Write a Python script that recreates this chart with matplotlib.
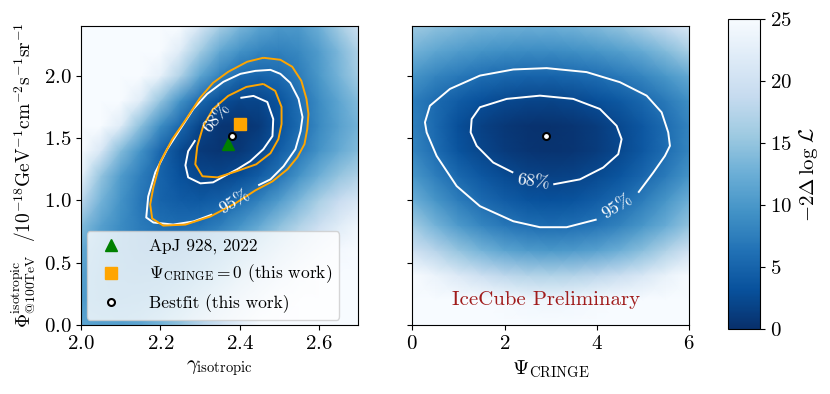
import numpy as np
import matplotlib
matplotlib.use("Agg")
import matplotlib.pyplot as plt

plt.rcParams['font.family'] = 'serif'
plt.rcParams['font.serif'] = ['cmr10']
plt.rcParams['mathtext.fontset'] = 'cm'
plt.rcParams['axes.formatter.use_mathtext'] = True
plt.rcParams['axes.unicode_minus'] = True

# ---- left panel scan: -2 dlogL on a (gamma, Phi) grid
gamma_nodes = [2.00, 2.05, 2.10, 2.15, 2.20, 2.25, 2.30, 2.35, 2.40, 2.45, 2.50, 2.55, 2.60, 2.65, 2.70]
phi_nodes = [0.0, 0.2, 0.4, 0.6, 0.8, 1.0, 1.2, 1.4, 1.6, 1.8, 2.0, 2.2, 2.4]
ts_left = [
    [11.5, 11.1, 11.1, 11.8, 13.2, 15.0, 17.5, 20.0, 22.5, 25.0, 25.0, 25.0, 25.0, 25.0, 25.0],
    [10.5, 9.8, 9.5, 9.8, 10.8, 12.5, 14.5, 17.0, 19.5, 22.0, 24.5, 25.0, 25.0, 25.0, 25.0],
    [11.0, 9.6, 8.8, 8.5, 8.8, 9.8, 11.5, 13.5, 16.0, 18.5, 21.0, 23.5, 25.0, 25.0, 25.0],
    [12.0, 10.0, 8.5, 7.5, 7.2, 7.6, 8.8, 10.5, 12.8, 15.0, 17.5, 20.0, 22.5, 24.5, 25.0],
    [14.0, 11.0, 8.8, 7.2, 6.2, 5.8, 6.2, 7.5, 9.5, 12.0, 14.5, 17.0, 19.5, 22.0, 24.0],
    [18.0, 13.0, 9.5, 6.8, 5.0, 4.2, 4.0, 4.6, 6.0, 8.0, 10.5, 13.5, 16.5, 19.0, 21.0],
    [23.0, 15.0, 10.5, 7.5, 5.0, 3.2, 2.2, 2.1, 2.8, 4.3, 6.5, 9.5, 12.5, 15.0, 17.0],
    [25.0, 21.0, 14.0, 9.5, 5.2, 2.5, 1.0, 0.5, 0.8, 2.0, 4.3, 6.8, 9.5, 12.0, 14.0],
    [25.0, 25.0, 22.0, 14.5, 9.0, 5.4, 2.0, 0.6, 0.3, 1.0, 3.2, 5.7, 8.5, 11.0, 13.0],
    [25.0, 25.0, 25.0, 22.0, 15.0, 9.5, 5.5, 3.0, 2.0, 2.1, 3.5, 6.0, 8.8, 11.5, 14.0],
    [25.0, 25.0, 25.0, 25.0, 23.0, 17.0, 11.5, 7.8, 5.6, 5.0, 5.6, 7.3, 10.0, 13.0, 16.0],
    [25.0, 25.0, 25.0, 25.0, 25.0, 22.0, 16.0, 12.0, 9.5, 8.2, 7.8, 8.5, 10.5, 13.5, 17.0],
    [25.0, 25.0, 25.0, 25.0, 25.0, 25.0, 21.0, 16.5, 13.5, 11.5, 10.2, 10.3, 12.5, 16.0, 20.0],
]

# ---- right panel scan: (Psi, Phi)
psi_nodes = [0.0, 0.5, 1.0, 1.5, 2.0, 2.5, 3.0, 3.5, 4.0, 4.5, 5.0, 5.5, 6.0]
ts_right = [
    [25.0, 25.0, 25.0, 25.0, 25.0, 25.0, 25.0, 25.0, 25.0, 25.0, 25.0, 25.0, 25.0],
    [25.0, 25.0, 25.0, 25.0, 24.8, 24.2, 24.0, 24.2, 24.8, 25.0, 25.0, 25.0, 25.0],
    [25.0, 23.5, 21.5, 19.5, 18.0, 17.2, 17.0, 17.2, 18.0, 19.3, 21.0, 23.2, 25.0],
    [20.0, 17.5, 15.0, 13.0, 11.4, 10.4, 10.0, 10.3, 11.1, 12.5, 14.4, 17.0, 20.0],
    [16.0, 13.0, 10.3, 8.3, 6.9, 6.0, 5.7, 6.0, 6.7, 8.0, 9.9, 12.3, 15.0],
    [12.6, 9.8, 7.4, 5.6, 4.3, 3.5, 3.2, 3.5, 4.3, 5.6, 7.4, 9.8, 12.6],
    [10.0, 7.5, 5.4, 3.8, 2.6, 1.9, 1.6, 1.85, 2.5, 3.6, 5.2, 7.2, 9.7],
    [8.3, 5.9, 3.5, 2.1, 1.1, 0.5, 0.3, 0.55, 1.25, 2.3, 3.9, 5.9, 8.2],
    [7.8, 5.5, 2.95, 1.65, 0.8, 0.3, 0.22, 0.55, 1.25, 2.4, 3.9, 5.8, 8.1],
    [7.5, 5.7, 4.2, 3.1, 2.4, 2.0, 1.95, 2.3, 3.0, 4.0, 5.4, 7.1, 9.2],
    [9.8, 8.2, 7.0, 6.0, 5.4, 5.05, 5.05, 5.4, 6.0, 7.0, 8.3, 10.0, 12.0],
    [13.0, 11.6, 10.5, 9.6, 9.1, 8.8, 8.85, 9.2, 9.8, 10.8, 12.2, 14.0, 16.5],
    [15.9, 14.7, 13.8, 13.1, 12.7, 12.5, 12.6, 13.0, 13.8, 15.0, 16.8, 19.0, 21.5],
]

# ---- contours
white95_left = [(2.447, 1.121), (2.478, 1.169), (2.511, 1.274), (2.541, 1.411), (2.554, 1.556), (2.559, 1.669),
                (2.549, 1.815), (2.528, 1.944), (2.503, 2.016), (2.478, 2.048), (2.440, 2.040), (2.402, 2.016),
                (2.359, 1.952), (2.318, 1.855), (2.283, 1.734), (2.250, 1.573), (2.217, 1.411), (2.187, 1.226),
                (2.169, 1.032), (2.164, 0.863), (2.182, 0.823), (2.232, 0.806), (2.283, 0.831), (2.331, 0.887)]
white68_left = [(2.402, 1.823), (2.435, 1.839), (2.470, 1.790), (2.485, 1.653), (2.483, 1.516), (2.460, 1.411),
                (2.427, 1.315), (2.394, 1.250), (2.361, 1.194), (2.333, 1.145), (2.301, 1.137), (2.270, 1.185),
                (2.263, 1.282), (2.270, 1.395), (2.288, 1.484)]
orange95_left = [(2.460, 2.145), (2.503, 2.129), (2.533, 2.073), (2.556, 1.960), (2.569, 1.815), (2.574, 1.694),
                 (2.571, 1.573), (2.564, 1.452), (2.546, 1.347), (2.521, 1.250), (2.483, 1.153), (2.440, 1.081),
                 (2.389, 0.976), (2.326, 0.871), (2.263, 0.806), (2.207, 0.798), (2.179, 0.855), (2.174, 0.968),
                 (2.182, 1.105), (2.199, 1.306), (2.230, 1.492), (2.265, 1.653), (2.300, 1.823), (2.333, 1.944),
                 (2.371, 2.032), (2.419, 2.113), (2.460, 2.145)]
orange68_left = [(2.460, 1.935), (2.490, 1.879), (2.506, 1.750), (2.506, 1.613), (2.498, 1.492), (2.478, 1.379),
                 (2.442, 1.290), (2.392, 1.234), (2.344, 1.185), (2.306, 1.194), (2.288, 1.290), (2.293, 1.435),
                 (2.308, 1.597), (2.333, 1.734), (2.371, 1.839), (2.417, 1.911), (2.460, 1.935)]
white95_right = [(4.895, 1.062), (5.220, 1.223), (5.473, 1.357), (5.582, 1.438), (5.545, 1.546), (5.402, 1.707),
                 (5.077, 1.841), (4.499, 1.949), (3.777, 2.030), (2.911, 2.062), (2.188, 2.051), (1.466, 2.002),
                 (0.817, 1.895), (0.383, 1.760), (0.275, 1.627), (0.312, 1.546), (0.528, 1.357), (0.962, 1.115),
                 (1.466, 0.954), (2.188, 0.833), (2.766, 0.785), (3.344, 0.785), (3.994, 0.847)]
white68_right = [(3.054, 1.129), (3.632, 1.169), (4.137, 1.264), (4.462, 1.371), (4.535, 1.492), (4.427, 1.599),
                 (4.065, 1.734), (3.487, 1.815), (2.766, 1.841), (2.045, 1.815), (1.466, 1.748), (1.287, 1.653),
                 (1.265, 1.546), (1.395, 1.438), (1.754, 1.304), (2.188, 1.223)]

# markers
apj_point = (2.37, 1.45)
psi0_point = (2.40, 1.61)
bestfit_left = (2.38, 1.52)
bestfit_right = (2.90, 1.52)

fig = plt.figure(figsize=(8.3, 3.94), dpi=100)
ax1 = fig.add_axes([0.098, 0.1751, 0.3337, 0.7589])
ax2 = fig.add_axes([0.4967, 0.1751, 0.3337, 0.7589])
cax = fig.add_axes([0.877, 0.165, 0.0386, 0.787])

G, P = np.meshgrid(gamma_nodes, phi_nodes)
mesh = ax1.pcolormesh(G, P, np.array(ts_left), cmap='Blues_r', vmin=0, vmax=25, shading='gouraud', rasterized=True)
S, P2 = np.meshgrid(psi_nodes, phi_nodes)
ax2.pcolormesh(S, P2, np.array(ts_right), cmap='Blues_r', vmin=0, vmax=25, shading='gouraud', rasterized=True)

def line(ax, pts, color):
    a = np.array(pts)
    ax.plot(a[:, 0], a[:, 1], color=color, lw=1.4, solid_capstyle='butt', solid_joinstyle='round')

line(ax1, white95_left, 'white')
line(ax1, white68_left, 'white')
line(ax1, orange95_left, 'orange')
line(ax1, orange68_left, 'orange')
line(ax2, white95_right, 'white')
line(ax2, white68_right, 'white')

lab = dict(color='white', fontsize=13, ha='center', va='center', rotation_mode='anchor')
ax1.text(2.341, 1.66, '68%', rotation=50, **lab)
ax1.text(2.389, 0.99, '95%', rotation=30, **lab)
ax2.text(2.63, 1.15, '68%', rotation=-8, **lab)
ax2.text(4.45, 0.95, '95%', rotation=32, **lab)

ax1.plot(*apj_point, '^', color='green', ms=9, ls='none', label='ApJ 928, 2022')
ax1.plot(*psi0_point, 's', color='orange', ms=8, ls='none', label=r'$\Psi_\mathrm{CRINGE}=0$ (this work)')
ax1.plot(*bestfit_left, 'o', mfc='white', mec='black', mew=1.5, ms=5, ls='none', label='Bestfit (this work)')
ax2.plot(*bestfit_right, 'o', mfc='white', mec='black', mew=1.5, ms=5, ls='none')

ax1.legend(loc='lower left', fontsize=12.5, framealpha=0.8, borderaxespad=0.3, handletextpad=1.2)

ax2.text(2.9, 0.2, 'IceCube Preliminary', color='#a01c1c', fontsize=15, ha='center', va='center')

ax1.set_xlim(2.0, 2.7)
ax1.set_ylim(0, 2.4)
ax2.set_xlim(0, 6)
ax2.set_ylim(0, 2.4)
ax1.set_xticks([2.0, 2.2, 2.4, 2.6])
ax1.set_yticks([0.0, 0.5, 1.0, 1.5, 2.0])
ax2.set_xticks([0, 2, 4, 6])
ax2.set_yticks([0.0, 0.5, 1.0, 1.5, 2.0])
ax2.set_yticklabels([])
for ax in (ax1, ax2):
    ax.tick_params(labelsize=15)

ax1.set_xlabel(r'$\gamma_\mathrm{isotropic}$', fontsize=15)
ax2.set_xlabel(r'$\Psi_\mathrm{CRINGE}$', fontsize=15)
ax1.set_ylabel(r'$\Phi^\mathrm{isotropic}_\mathrm{@100TeV}$  $/10^{-18}\mathrm{GeV}^{-1}\mathrm{cm}^{-2}\mathrm{s}^{-1}\mathrm{sr}^{-1}$',
               fontsize=14)

cb = fig.colorbar(mesh, cax=cax, ticks=[0, 5, 10, 15, 20, 25])
cb.ax.tick_params(labelsize=15)
cb.set_label(r'$-2\Delta\,\log\,\mathcal{L}$', fontsize=15)

fig.savefig('out.png', dpi=100)
